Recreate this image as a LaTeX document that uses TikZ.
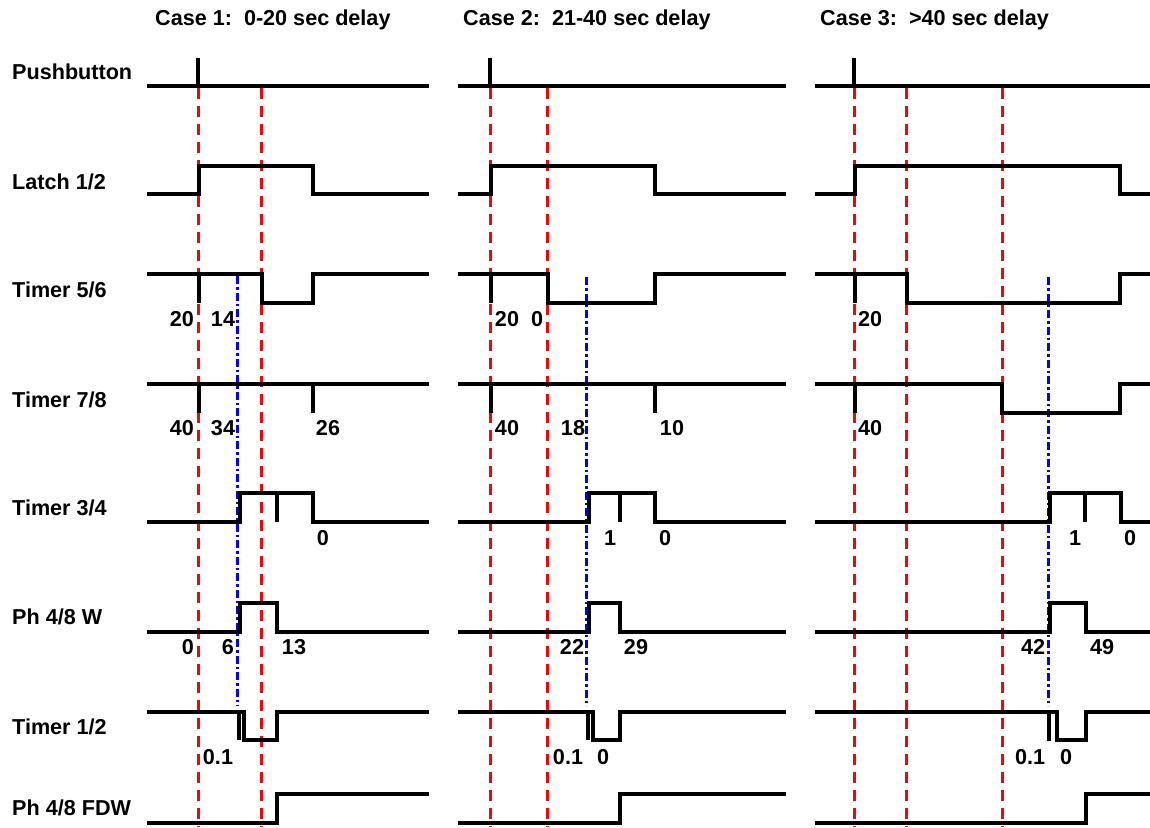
\documentclass[tikz,border=0pt]{standalone}
\usepackage{fontspec}
\setmainfont{Liberation Sans}
\begin{document}
\begin{tikzpicture}[x=1pt,y=-1pt,
  wave/.style={line width=4pt,black,line join=miter},
  tickline/.style={line width=4pt,black},
  reddash/.style={line width=3pt,red,dash pattern=on 11pt off 7pt},
  bluedash/.style={line width=3pt,blue,dash pattern=on 8pt off 3pt on 2.5pt off 3pt},
  lbl/.style={font=\fontsize{21.6}{26}\selectfont\bfseries,inner sep=0pt,anchor=west},
  num/.style={font=\fontsize{21.6}{26}\selectfont\bfseries,inner sep=0pt,anchor=center}]
\useasboundingbox (0,0) rectangle (1150,827);
% titles
\node[lbl] (t1) at (155,20) {Case 1:\ \ 0-20 sec delay};
\node[lbl] (t2) at (463,20) {Case 2:\ \ 21-40 sec delay};
\node[lbl] (t3) at (820,20) {Case 3:\ \ >40 sec delay};
% row labels
\node[lbl] (r1) at (12,72) {Pushbutton};
\node[lbl] (r2) at (12,182) {Latch 1/2};
\node[lbl] (r3) at (12,290) {Timer 5/6};
\node[lbl] (r4) at (12,400) {Timer 7/8};
\node[lbl] (r5) at (12,508) {Timer 3/4};
\node[lbl] (r6) at (12,617) {Ph 4/8 W};
\node[lbl] (r7) at (12,727) {Timer 1/2};
\node[lbl] (r8) at (12,808) {Ph 4/8 FDW};

% dashed guide lines (drawn first)
\draw[reddash] (198,88) -- (198,827);
\draw[reddash] (261,88) -- (261,827);
\draw[bluedash] (237,276) -- (237,706);
\draw[reddash] (490,88) -- (490,827);
\draw[reddash] (547,88) -- (547,827);
\draw[bluedash] (586,277) -- (586,706);
\draw[reddash] (854,88) -- (854,827);
\draw[reddash] (906,88) -- (906,827);
\draw[reddash] (1002,88) -- (1002,827);
\draw[bluedash] (1048,277) -- (1048,706);

% ================= Case 1 =================
\draw[wave] (147,86) -- (429,86);
\draw[tickline] (198,58) -- (198,86);
\draw[wave] (147,194) -- (199,194) -- (199,166) -- (313,166) -- (313,194) -- (429,194);
\draw[wave] (147,274) -- (262,274) -- (262,303) -- (313,303) -- (313,274) -- (429,274);
\draw[tickline] (199,274) -- (199,303);
\draw[wave] (147,384) -- (429,384);
\draw[tickline] (199,384) -- (199,413);
\draw[tickline] (313,384) -- (313,413);
\draw[wave] (147,522) -- (240,522) -- (240,493) -- (313,493) -- (313,522) -- (429,522);
\draw[tickline] (277,493) -- (277,522);
\draw[wave] (147,632) -- (240,632) -- (240,603) -- (277,603) -- (277,632) -- (429,632);
\draw[wave] (147,712) -- (244,712) -- (244,740) -- (277,740) -- (277,712) -- (429,712);
\draw[tickline] (239,712) -- (239,740);
\draw[wave] (147,823) -- (277,823) -- (277,794) -- (429,794);
\node[num] (c1a) at (182,319) {20};
\node[num] (c1b) at (223,319) {14};
\node[num] (c1c) at (182,428) {40};
\node[num] (c1d) at (223,428) {34};
\node[num] (c1e) at (328,428) {26};
\node[num] (c1f) at (323,538) {0};
\node[num] (c1g) at (188,647) {0};
\node[num] (c1h) at (228,647) {6};
\node[num] (c1i) at (294,647) {13};
\node[num] (c1j) at (218,757) {0.1};

% ================= Case 2 =================
\draw[wave] (458,86) -- (786,86);
\draw[tickline] (490,58) -- (490,86);
\draw[wave] (458,194) -- (491,194) -- (491,166) -- (655,166) -- (655,194) -- (786,194);
\draw[wave] (458,274) -- (548,274) -- (548,303) -- (655,303) -- (655,274) -- (786,274);
\draw[tickline] (491,274) -- (491,303);
\draw[wave] (458,384) -- (786,384);
\draw[tickline] (491,384) -- (491,413);
\draw[tickline] (655,384) -- (655,413);
\draw[wave] (458,522) -- (589,522) -- (589,493) -- (655,493) -- (655,522) -- (786,522);
\draw[tickline] (620,493) -- (620,522);
\draw[wave] (458,632) -- (589,632) -- (589,603) -- (620,603) -- (620,632) -- (786,632);
\draw[wave] (458,712) -- (593,712) -- (593,740) -- (620,740) -- (620,712) -- (786,712);
\draw[tickline] (588,712) -- (588,740);
\draw[wave] (458,823) -- (620,823) -- (620,794) -- (786,794);
\node[num] (c2a) at (507,319) {20};
\node[num] (c2b) at (537,319) {0};
\node[num] (c2c) at (507,428) {40};
\node[num] (c2d) at (573,428) {18};
\node[num] (c2e) at (672,428) {10};
\node[num] (c2f) at (610,538) {1};
\node[num] (c2g) at (665,538) {0};
\node[num] (c2h) at (572,647) {22};
\node[num] (c2i) at (636,647) {29};
\node[num] (c2j) at (568,757) {0.1};
\node[num] (c2k) at (603,757) {0};

% ================= Case 3 =================
\draw[wave] (815,86) -- (1150,86);
\draw[tickline] (854,58) -- (854,86);
\draw[wave] (815,194) -- (855,194) -- (855,166) -- (1120,166) -- (1120,194) -- (1150,194);
\draw[wave] (815,274) -- (907,274) -- (907,303) -- (1120,303) -- (1120,274) -- (1150,274);
\draw[tickline] (855,274) -- (855,303);
\draw[wave] (815,384) -- (1002,384) -- (1002,413) -- (1120,413) -- (1120,384) -- (1150,384);
\draw[tickline] (855,384) -- (855,413);
\draw[wave] (815,522) -- (1050,522) -- (1050,493) -- (1121,493) -- (1121,522) -- (1150,522);
\draw[tickline] (1085,493) -- (1085,522);
\draw[wave] (815,632) -- (1050,632) -- (1050,603) -- (1086,603) -- (1086,632) -- (1150,632);
\draw[wave] (815,712) -- (1057,712) -- (1057,740) -- (1086,740) -- (1086,712) -- (1150,712);
\draw[tickline] (1049,712) -- (1049,741);
\draw[wave] (815,823) -- (1086,823) -- (1086,794) -- (1150,794);
\node[num] (c3a) at (870,319) {20};
\node[num] (c3b) at (870,428) {40};
\node[num] (c3c) at (1075,538) {1};
\node[num] (c3d) at (1130,538) {0};
\node[num] (c3e) at (1033,647) {42};
\node[num] (c3f) at (1102,647) {49};
\node[num] (c3g) at (1030,757) {0.1};
\node[num] (c3h) at (1066,757) {0};
\end{tikzpicture}
\end{document}
